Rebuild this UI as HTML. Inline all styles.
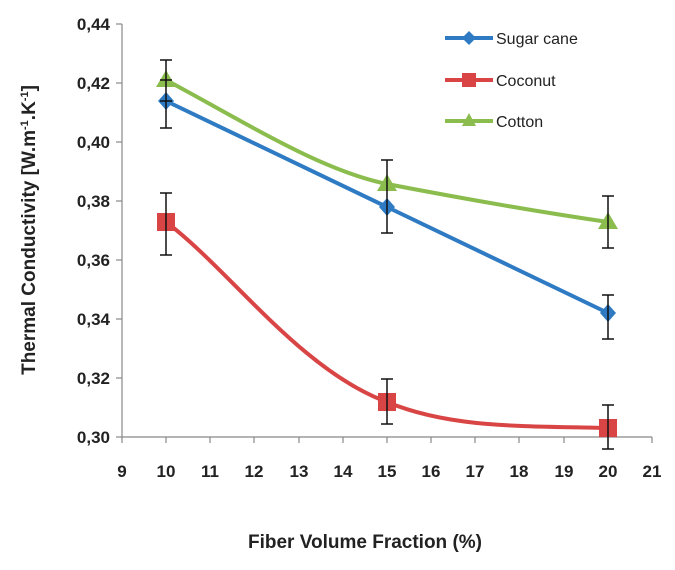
<!DOCTYPE html><html><head><style>body{margin:0;background:#fff}</style></head><body>
<svg width="675" height="565" xmlns="http://www.w3.org/2000/svg" font-family="Liberation Sans, sans-serif">
<g stroke="#888" stroke-width="1.2" fill="none">
<line x1="122" y1="24" x2="122" y2="437"/>
<line x1="122" y1="437" x2="652" y2="437"/>
<line x1="116" y1="24" x2="122" y2="24"/><line x1="116" y1="83" x2="122" y2="83"/><line x1="116" y1="142" x2="122" y2="142"/><line x1="116" y1="201" x2="122" y2="201"/><line x1="116" y1="260" x2="122" y2="260"/><line x1="116" y1="319" x2="122" y2="319"/><line x1="116" y1="378" x2="122" y2="378"/><line x1="116" y1="437" x2="122" y2="437"/>
<path d="M122 437v6M166 437v6M210 437v6M254 437v6M299 437v6M343 437v6M387 437v6M431 437v6M475 437v6M519 437v6M564 437v6M608 437v6M652 437v6"/>
</g>
<g font-size="17" font-weight="bold" fill="#222" text-anchor="end">
<text x="110" y="30">0,44</text><text x="110" y="89">0,42</text><text x="110" y="148">0,40</text><text x="110" y="207">0,38</text><text x="110" y="266">0,36</text><text x="110" y="325">0,34</text><text x="110" y="384">0,32</text><text x="110" y="443">0,30</text>
</g>
<g font-size="17" font-weight="bold" fill="#222" text-anchor="middle">
<text x="122" y="477">9</text><text x="166" y="477">10</text><text x="210" y="477">11</text><text x="254" y="477">12</text><text x="299" y="477">13</text><text x="343" y="477">14</text><text x="387" y="477">15</text><text x="431" y="477">16</text><text x="475" y="477">17</text><text x="519" y="477">18</text><text x="564" y="477">19</text><text x="608" y="477">20</text><text x="652" y="477">21</text>
<text x="365" y="548" font-size="19">Fiber Volume Fraction (%)</text>
<text transform="translate(35,230) rotate(-90)" font-size="19">Thermal Conductivity [W.m<tspan font-size="11" dy="-7">-1</tspan><tspan dy="7">.K</tspan><tspan font-size="11" dy="-7">-1</tspan><tspan dy="7">]</tspan></text>
</g>
<g fill="none" stroke-width="4">
<path d="M166 101 L387 207 L608 313" stroke="#2e7bc4"/>
<path d="M166 222 C230 270 300 370 387 402 C450 428 520 426 608 428" stroke="#d94545"/>
<path d="M166 80 C250 125 320 170 387 184 C470 200 540 212 608 222" stroke="#8bbd4e"/>
<line x1="445" y1="38" x2="493" y2="38" stroke="#2e7bc4"/>
<line x1="445" y1="80" x2="493" y2="80" stroke="#d94545"/>
<line x1="445" y1="121" x2="493" y2="121" stroke="#8bbd4e"/>
</g>
<g fill="#2e7bc4"><path d="M166 92l8 9-8 9-8-9z"/><path d="M387 198l8 9-8 9-8-9z"/><path d="M608 304l8 9-8 9-8-9z"/><path d="M469 31l7 7-7 7-7-7z"/></g>
<g fill="#d94545"><rect x="157" y="213" width="18" height="18"/><rect x="378" y="393" width="18" height="18"/><rect x="599" y="419" width="18" height="18"/><rect x="462" y="73" width="14" height="14"/></g>
<g fill="#8bbd4e"><path d="M166 70l10 17h-20z"/><path d="M387 174l10 17h-20z"/><path d="M608 212l10 17h-20z"/><path d="M469 113l7 13h-14z"/></g>
<g stroke="#111" stroke-width="1.5" fill="none">
<path d="M166 60V128M160 60h12M160 128h12M160 80h12M160 101h12"/>
<path d="M387 160V233M381 160h12M381 233h12"/>
<path d="M608 196V248M602 196h12M602 248h12"/>
<path d="M608 295V339M602 295h12M602 339h12"/>
<path d="M166 193V255M160 193h12M160 255h12"/>
<path d="M387 379V424M381 379h12M381 424h12"/>
<path d="M608 405V449M602 405h12M602 449h12"/>
</g>
<g font-size="16" fill="#222"><text x="496" y="44">Sugar cane</text><text x="496" y="86">Coconut</text><text x="496" y="127">Cotton</text></g>
</svg></body></html>
